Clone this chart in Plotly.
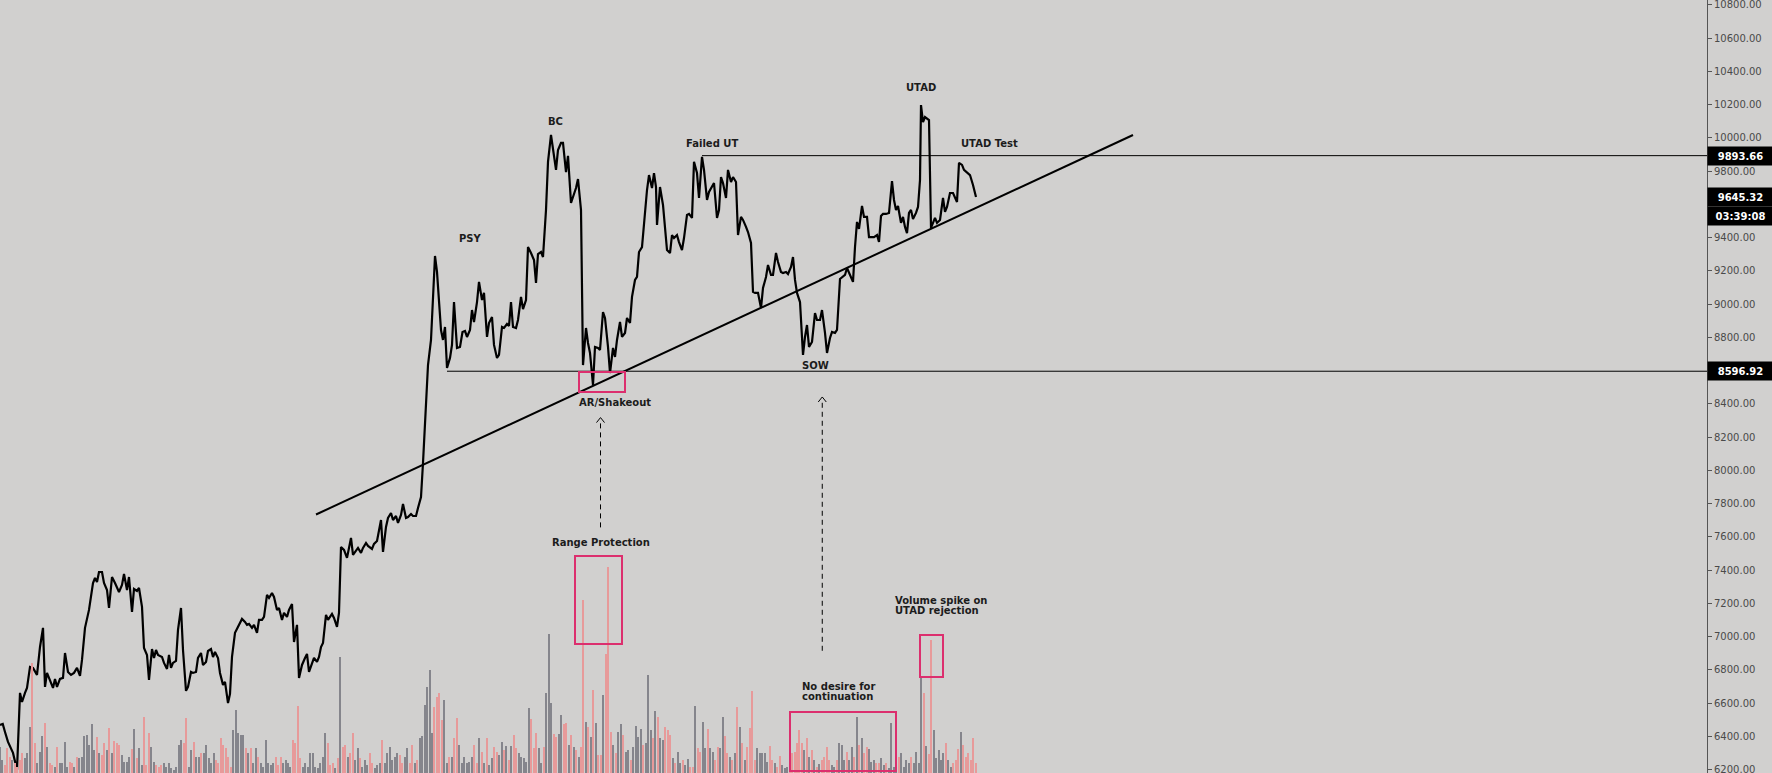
import plotly.graph_objects as go

# ---------------- data ----------------
# price line: bar position (4h candles) and close price
price_t = [
    0, 1.1, 2, 3.2, 5.2, 6, 6.8, 8, 8.8, 10,
    10.8, 12, 13.2, 14.8, 16, 17.2, 18, 18.8, 20, 21.2,
    22, 22.8, 24, 25.2, 26, 27.2, 28.4, 29.6, 30.8, 32,
    32.8, 34, 35.6, 37.2, 38, 38.8, 39.6, 40.8, 41.6, 42.8,
    43.6, 44.8, 46, 47.6, 48.8, 49.6, 50.8, 51.6, 52.8, 53.6,
    54.8, 55.6, 56.8, 57.6, 58.8, 59.6, 60.8, 61.6, 62.4, 63.2,
    64.8, 65.6, 66.8, 67.6, 68.4, 69.2, 70.4, 71.2, 72.4, 73.2,
    74.4, 75.2, 76.4, 77.2, 78.4, 79.2, 80.4, 81.2, 82.4, 83.2,
    84.4, 85.2, 86, 87.2, 88, 89.2, 90, 91.2, 92, 92.8,
    94, 95.2, 96.8, 98, 98.8, 99.6, 100.8, 101.6, 102.8, 103.6,
    104.8, 105.6, 106.8, 107.6, 108.8, 109.6, 110.8, 111.6, 112.8, 113.6,
    114.8, 115.6, 116.8, 117.6, 118.8, 119.6, 120.8, 122, 122.8, 123.6,
    124.8, 125.6, 126.8, 127.6, 128.4, 129.2, 130.4, 131.2, 132.8, 133.6,
    134.8, 135.6, 136.4, 137.6, 138.8, 140.4, 141.2, 142.4, 143.2, 144.4,
    145.2, 146.4, 147.2, 148.8, 149.6, 150.8, 152.4, 153.2, 154.4, 155.2,
    156.4, 157.2, 158.4, 159.2, 160.4, 161.2, 162.4, 163.2, 164.4, 165.2,
    166.4, 167.2, 168.4, 169.2, 170.4, 171.2, 172.4, 173.2, 174, 174.8,
    175.6, 176.4, 177.2, 178, 178.8, 180, 180.8, 181.6, 182.8, 184,
    185, 186, 186.8, 188, 188.8, 189.6, 190.8, 191.6, 192.8, 193.6,
    194.8, 195.6, 196.8, 197.6, 198.8, 199.6, 200.8, 201.6, 202.8, 203.6,
    204.4, 205.2, 206.4, 207.2, 208.4, 209.2, 210.4, 211.2, 212.4, 213.6,
    214.4, 215.2, 216.4, 217.2, 218.4, 219.2, 220.4, 221.2, 222.4, 223.2,
    224.4, 225.2, 226.4, 227.2, 228.4, 229.2, 230.4, 231.2, 232.4, 233.2,
    234.4, 235.2, 236, 237.2, 238, 239.2, 240, 241.2, 242, 243.2,
    244, 245.2, 246, 246.8, 248, 248.8, 250, 250.8, 252, 252.8,
    254, 254.8, 255.6, 256.8, 257.6, 258.8, 259.6, 260.8, 261.6, 262.4,
    262.8, 264, 265.2, 266, 266.8, 268, 268.8, 269.6, 270.8, 271.6,
    272.8, 273.6, 274.8, 275.6, 276.8, 277.6, 278.8, 279.6, 280.8, 281.6,
    282.8, 283.6, 284.8, 285.6, 286.8, 287.6, 288.4, 289.2, 290.4, 291.2,
    292.4, 293.2, 294.4, 295.2, 296.4, 297.2, 298.4, 299.2, 300.4, 301.2,
    302, 303.2, 304.4, 305.2, 306.4, 307.2, 308.4, 309.2, 310.4, 311.2,
    312.4, 313.2, 314.4, 315.2, 316.4, 317.2, 318, 318.8, 320, 321.2,
    322, 322.8, 323.6, 324.8, 326, 326.8, 328, 328.8, 330, 330.8,
    332, 332.8, 334, 334.8, 336, 336.8, 338, 338.8, 340, 341.2,
    342, 342.8, 343.6, 344.8, 345.6, 346.8, 347.6, 348.8, 349.6, 350.8,
    351.6, 352.4, 353.2, 354.4, 355.6, 356.8, 357.6, 358.4, 359.2, 360.4,
    361.2, 362, 362.8, 363.6, 364.4, 365.2, 366.4, 367.2, 368, 368.4,
    369.2, 370, 370.8, 371.6, 372.4, 373.2, 374, 374.8, 376, 377.2,
    378, 378.8, 380, 381.2, 382, 382.8, 383.6, 384.8, 385.6, 386.8,
    388, 389.2, 390.4,
]
price_close = [
    6469, 6475, 6427, 6367, 6301, 6240, 6198, 6662, 6607, 6662,
    6692, 6818, 6812, 6770, 6938, 7053, 6698, 6782, 6740, 6692,
    6746, 6698, 6746, 6752, 6902, 6788, 6770, 6782, 6812, 6764,
    6860, 7053, 7161, 7323, 7353, 7329, 7389, 7389, 7323, 7281,
    7173, 7359, 7323, 7269, 7311, 7377, 7281, 7359, 7149, 7287,
    7275, 7293, 7179, 6932, 6890, 6740, 6926, 6872, 6920, 6890,
    6878, 6842, 6806, 6890, 6812, 6842, 6854, 7041, 7173, 6920,
    6674, 6698, 6788, 6782, 6788, 6872, 6902, 6830, 6848, 6914,
    6926, 6878, 6908, 6872, 6782, 6710, 6728, 6601, 6656, 6878,
    7023, 7059, 7107, 7089, 7071, 7077, 7053, 7071, 7023, 7101,
    7101, 7119, 7251, 7233, 7263, 7239, 7161, 7173, 7101, 7143,
    7119, 7161, 7197, 6968, 7071, 6752, 6830, 6872, 6896, 6788,
    6842, 6872, 6848, 6878, 6938, 6962, 7131, 7101, 7137, 7113,
    7059, 7143, 7540, 7522, 7474, 7594, 7492, 7516, 7534, 7504,
    7534, 7564, 7546, 7528, 7558, 7576, 7702, 7510, 7660, 7714,
    7744, 7702, 7726, 7684, 7732, 7798, 7714, 7720, 7738, 7726,
    7726, 7774, 7840, 8045, 8364, 8634, 8785, 9007, 9290, 9194,
    9007, 8845, 8785, 8863, 8616, 8677, 8755, 9013, 8737, 8743,
    8833, 8839, 8803, 8845, 8965, 8893, 9013, 9134, 9025, 9068,
    8803, 8887, 8923, 8755, 8677, 8695, 8863, 8857, 8881, 8869,
    9013, 8863, 8857, 8905, 9044, 8971, 9025, 9344, 9308, 9266,
    9128, 9302, 9314, 9284, 9567, 9856, 10018, 9940, 9808, 9928,
    9970, 9970, 9795, 9892, 9609, 9645, 9699, 9753, 9567, 8634,
    8857, 8767, 8707, 8514, 8743, 8737, 8725, 8953, 8917, 8743,
    8586, 8737, 8683, 8785, 8893, 8803, 8827, 8917, 8887, 9044,
    9146, 9164, 9314, 9344, 9495, 9687, 9777, 9699, 9789, 9705,
    9477, 9705, 9597, 9450, 9326, 9308, 9416, 9398, 9416, 9374,
    9326, 9398, 9537, 9543, 9519, 9856, 9789, 9639, 9886, 9808,
    9627, 9675, 9705, 9729, 9519, 9567, 9765, 9729, 9639, 9808,
    9735, 9765, 9735, 9416, 9525, 9507, 9465, 9434, 9368, 9074,
    9068, 9068, 8977, 9098, 9164, 9236, 9176, 9176, 9308, 9254,
    9194, 9188, 9194, 9182, 9224, 9284, 9146, 9068, 9013, 8695,
    8803, 8875, 8743, 8773, 8947, 8905, 8905, 8965, 8827, 8707,
    8797, 8833, 8827, 8845, 9152, 9164, 9176, 9218, 9176, 9134,
    9344, 9495, 9453, 9591, 9525, 9525, 9404, 9404, 9404, 9416,
    9374, 9531, 9543, 9543, 9549, 9741, 9627, 9567, 9591, 9489,
    9525, 9465, 9428, 9549, 9567, 9513, 9549, 9585, 9747, 10198,
    10096, 10126, 10114, 10108, 9459, 9495, 9519, 9489, 9507, 9639,
    9555, 9585, 9669, 9669, 9645, 9615, 9850, 9838, 9808, 9795,
    9777, 9717, 9645.32,
]

# volume per candle (arbitrary units) and candle direction (G = up, R = down)
vol = [
    26, 13, 8, 25, 16, 13, 10, 6, 13, 20,
    15, 20, 46, 110, 30, 10, 21, 37, 50, 26,
    10, 8, 6, 26, 10, 10, 31, 6, 11, 10,
    6, 16, 15, 16, 37, 38, 28, 49, 23, 36,
    20, 18, 30, 23, 45, 20, 32, 30, 28, 18,
    11, 11, 16, 24, 44, 15, 25, 8, 56, 8,
    40, 26, 11, 8, 6, 8, 10, 6, 10, 5,
    3, 6, 28, 33, 30, 55, 6, 23, 31, 16,
    16, 20, 20, 28, 15, 10, 20, 13, 10, 35,
    28, 25, 16, 6, 43, 63, 40, 38, 38, 25,
    20, 25, 10, 25, 16, 10, 6, 33, 10, 8,
    10, 16, 8, 16, 10, 13, 10, 6, 33, 30,
    67, 15, 6, 10, 6, 20, 20, 6, 5, 10,
    16, 40, 30, 8, 10, 5, 15, 116, 26, 28,
    16, 20, 40, 13, 25, 15, 6, 13, 8, 20,
    10, 5, 8, 10, 33, 10, 20, 26, 13, 16,
    20, 18, 10, 16, 25, 10, 28, 10, 13, 35,
    37, 68, 86, 103, 40, 66, 76, 80, 53, 73,
    10, 16, 16, 35, 55, 28, 10, 16, 10, 11,
    16, 28, 10, 35, 21, 10, 35, 8, 15, 26,
    21, 18, 31, 23, 27, 13, 27, 38, 25, 20,
    16, 15, 11, 65, 54, 25, 40, 25, 10, 26,
    80, 139, 70, 39, 36, 39, 58, 49, 50, 28,
    38, 26, 23, 16, 26, 173, 51, 46, 36, 83,
    50, 18, 18, 78, 119, 206, 41, 28, 20, 41,
    49, 38, 21, 23, 13, 26, 47, 36, 44, 28,
    30, 98, 43, 35, 62, 56, 35, 33, 46, 43,
    38, 15, 10, 21, 10, 13, 8, 14, 6, 6,
    67, 25, 21, 51, 25, 44, 25, 21, 13, 26,
    25, 56, 37, 20, 16, 13, 20, 66, 46, 30,
    13, 26, 45, 82, 13, 25, 20, 20, 20, 11,
    27, 13, 10, 6, 17, 8, 5, 6, 13, 20,
    21, 30, 43, 30, 23, 35, 16, 23, 13, 6,
    9, 13, 16, 26, 13, 8, 6, 13, 30, 28,
    13, 21, 13, 26, 16, 56, 28, 35, 20, 26,
    24, 11, 13, 10, 10, 15, 8, 10, 5, 50,
    6, 10, 16, 20, 6, 13, 10, 16, 10, 21,
    10, 95, 80, 27, 19, 133, 43, 15, 23, 13,
    20, 30, 13, 6, 10, 13, 24, 41, 28, 16,
    20, 13, 35, 10,
]
vol_dir = (
    "GGRRRGRRRR" "GGGRRGGGRG" "RRGRGGGGRR" "GRGGGGGGGR" "GRRGRGRRRG"
    "GGGRGRGGRR" "RGGRRRGGGG" "GGGGRRGGRG" "GRGGGGGRRR" "RRRRGGGGGR"
    "GRGGRGGGGG" "GRRRGGGGRR" "RRGGGGGGGG" "GGRRRGRGRR" "GRRGGRGGGR"
    "RGGGRGGGGG" "GRRGGRRGRG" "GGGGGRRRRG" "GRGRRGGGGG" "GRRGRGRGGR"
    "RGGRGRGRRG" "GGGGRRRGGR" "GGGRRGGRRG" "RGRGRRGRGR" "GRRGRRRGRG"
    "GRGGRGGGGR" "GGGRGRGGRR" "RGRGGRGGRR" "GRRGGRGGRR" "GGRRGRGRGR"
    "GRRRRGGGGG" "RRGRRGGGRR" "RRRRGRGRGR" "GRRRRGGRGG" "GRGGRGRGRR"
    "GGGRRGGRGG" "GGRGGGGRGG" "GGRGRRGGGG" "GRGGRRRGRR" "RRRR"
)

price_ticks = list(range(6200, 10801, 200))
hidden_tick_labels = [8600, 9600]   # covered by the price tags in the reference

level_high = 9893.66          # Failed UT level
level_high_from = 280.8
level_low = 8596.92           # range low
level_low_from = 178.8
last_price = 9645.32
countdown = "03:39:08"

# trend line anchors (bar, price)
trend_start = (126.4, 7735)
trend_end = (453.2, 10018)

# text labels: (text, bar, price, anchor)
labels = [
    ("PSY", 188, 9398, "center"),
    ("BC", 222, 10102, "center"),
    ("Failed UT", 284.8, 9964, "center"),
    ("UTAD", 368.4, 10301, "center"),
    ("UTAD Test", 395.6, 9964, "center"),
    ("SOW", 326, 8634, "center"),
    ("AR/Shakeout", 246, 8406, "center"),
    ("Range Protection", 240.4, 7564, "center"),
    ("No desire for", 320, 6700, "left"),
    ("continuation", 320, 6643, "left"),
    ("Volume spike on", 357.2, 7215, "left"),
    ("UTAD rejection", 357.2, 7155, "left"),
]

# highlight boxes: (bar0, bar1, price0, price1)
boxes = [
    (231.6, 250.0, 8472, 8592),
    (230.0, 248.8, 6956, 7485),
    (316.0, 358.4, 6192, 6547),
    (368.0, 377.2, 6758, 7010),
]

# dashed arrows: (bar, tip price, tail price)
arrows = [
    (240.2, 8318, 7636),
    (328.9, 8442, 6908),
]

# ---------------- styling ----------------
BG = "#d1d0cf"
PINK = "#dc2f6e"
TXT = "#1c1c1c"
AX = "#555555"
FONT = "DejaVu Sans"
W, H = 1772, 773
R_MARGIN = 65

X_RANGE = [0, 682.8]
X2_RANGE = [0, 687.5]
Y_RANGE = [6180, 10830]

colors = ["#85858c" if d == "G" else "#e79a9a" for d in vol_dir]
tick_text = ["" if v in hidden_tick_labels else "%.2f" % v for v in price_ticks]

fig = go.Figure()
fig.add_trace(go.Bar(
    x=list(range(len(vol))), y=vol, width=0.42,
    marker=dict(color=colors, line=dict(width=0)),
    xaxis="x2", yaxis="y2", hoverinfo="skip", showlegend=False,
))
fig.add_trace(go.Scatter(
    x=price_t, y=price_close, mode="lines",
    line=dict(color="#000000", width=2.2),
    hoverinfo="skip", showlegend=False,
))

shapes = []
shapes.append(dict(type="line", xref="x", yref="y",
                   x0=trend_start[0], y0=trend_start[1],
                   x1=trend_end[0], y1=trend_end[1],
                   line=dict(color="#000000", width=2)))
shapes.append(dict(type="line", xref="x", yref="y",
                   x0=level_high_from, x1=X_RANGE[1], y0=level_high, y1=level_high,
                   line=dict(color="#000000", width=1)))
shapes.append(dict(type="line", xref="x", yref="y",
                   x0=level_low_from, x1=X_RANGE[1], y0=level_low, y1=level_low,
                   line=dict(color="#000000", width=1)))
for b0, b1, p0, p1 in boxes:
    shapes.append(dict(type="rect", xref="x", yref="y", x0=b0, x1=b1, y0=p0, y1=p1,
                       line=dict(color=PINK, width=2), fillcolor="rgba(0,0,0,0)"))
for bx, tip, tail in arrows:
    shapes.append(dict(type="line", xref="x", yref="y", x0=bx, x1=bx,
                       y0=tip - 35, y1=tail,
                       line=dict(color="#000000", width=1, dash="5px,4px")))
    shapes.append(dict(type="path", xref="x", yref="y",
                       xsizemode="pixel", ysizemode="pixel",
                       xanchor=bx, yanchor=tip,
                       path="M -4,-5 L 0,0 L 4,-5",
                       line=dict(color="#000000", width=1)))

annotations = []
for text, bx, py, anc in labels:
    annotations.append(dict(x=bx, y=py, xref="x", yref="y", text="<b>%s</b>" % text,
                            showarrow=False, xanchor=anc, yanchor="middle",
                            font=dict(family=FONT, size=10, color=TXT)))

def price_tag(y, text):
    return dict(x=1, y=y, xref="paper", yref="y", text="<b>%s</b>" % text,
                showarrow=False, xanchor="left", yanchor="middle",
                bgcolor="#000000", width=61, height=14, borderpad=2,
                font=dict(family=FONT, size=10, color="#ffffff"), align="center")

annotations.append(price_tag(level_high, "%.2f" % level_high))
annotations.append(price_tag(last_price, "%.2f" % last_price))
annotations.append(price_tag(9530, countdown))
annotations.append(price_tag(level_low, "%.2f" % level_low))

fig.update_layout(
    width=W, height=H,
    margin=dict(l=0, r=R_MARGIN, t=0, b=0, pad=0),
    paper_bgcolor=BG, plot_bgcolor=BG,
    showlegend=False,
    xaxis=dict(range=X_RANGE, visible=False, fixedrange=True),
    xaxis2=dict(range=X2_RANGE, visible=False, overlaying="x", fixedrange=True),
    yaxis=dict(range=Y_RANGE, side="right", tickvals=price_ticks,
               ticktext=tick_text, ticklabeloverflow="allow",
               ticks="outside", ticklen=4, tickcolor=AX, tickwidth=1,
               showline=True, linecolor=AX, linewidth=1, mirror=False,
               showgrid=False, zeroline=False, automargin=False,
               tickfont=dict(family=FONT, size=10, color="#4a4a4a")),
    yaxis2=dict(range=[0, H], overlaying="y", visible=False, fixedrange=True),
    shapes=shapes,
    annotations=annotations,
    bargap=0,
)

fig.write_html("out.html", include_plotlyjs=True, config={"displayModeBar": False})

# remove the browser's default page margin so the figure fills the window
with open("out.html", "r", encoding="utf-8") as fh:
    page = fh.read()
page = page.replace("<head>", "<head><style>html,body{margin:0;padding:0;overflow:hidden;background:%s}</style>" % BG, 1)
with open("out.html", "w", encoding="utf-8") as fh:
    fh.write(page)
